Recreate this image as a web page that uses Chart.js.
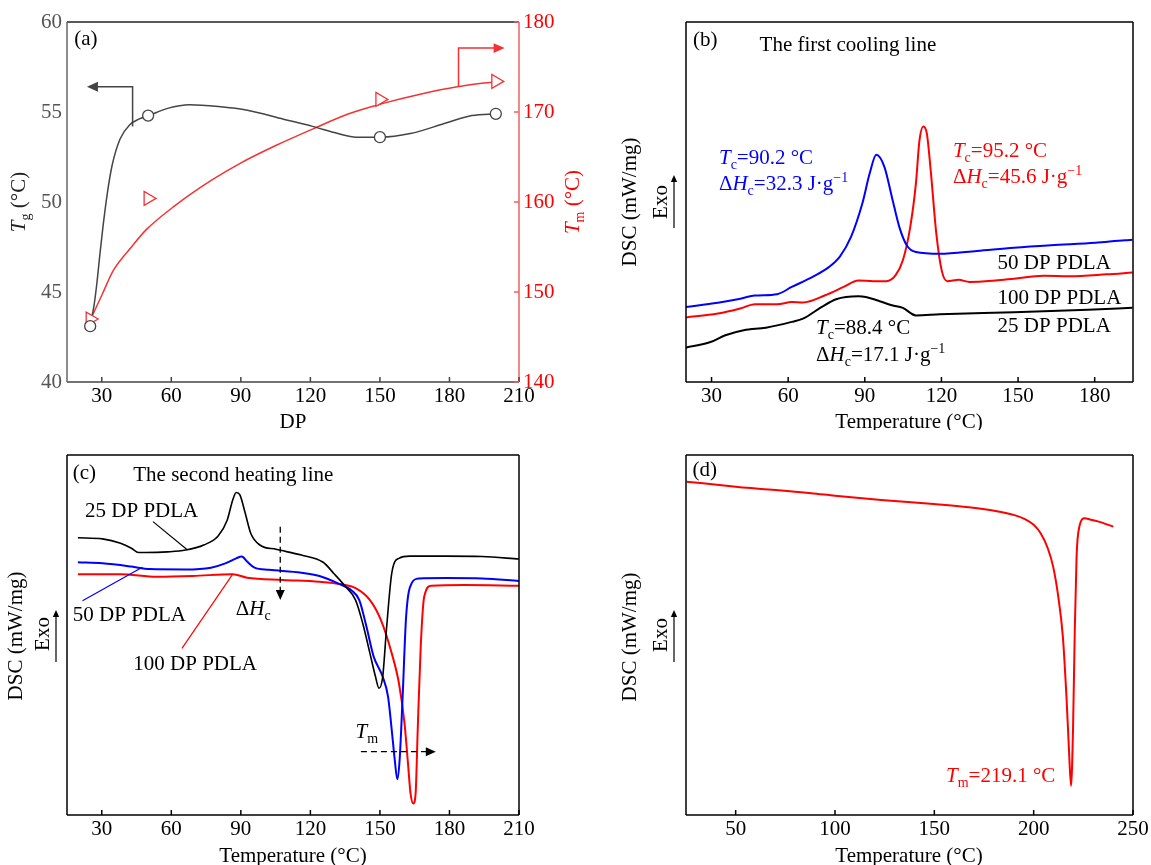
<!DOCTYPE html>
<html>
<head>
<meta charset="utf-8">
<script src="https://cdn.jsdelivr.net/npm/chart.js@4.4.1/dist/chart.umd.min.js"></script>
<style>
  body { margin: 0; background: #fff; width: 1151px; height: 865px; position: relative; overflow: hidden; }
  canvas { position: absolute; }
</style>
</head>
<body>
<canvas id="ca" width="600" height="430" style="left:0;top:0"></canvas>
<canvas id="cb" width="551" height="430" style="left:600px;top:0"></canvas>
<canvas id="cc" width="600" height="435" style="left:0;top:430px"></canvas>
<canvas id="cd" width="551" height="435" style="left:600px;top:430px"></canvas>
<script>
// ---- (a) Tg / Tm vs DP ----
const dpTicks = [30, 60, 90, 120, 150, 180, 210];
const tgTicks = [40, 45, 50, 55, 60];
const tmTicks = [140, 150, 160, 170, 180];
const dp = [25, 50, 150, 200];
const tg = [43.1, 54.8, 53.6, 54.9];
const tm = [147.0, 160.4, 171.4, 173.4];
// guide curves
const tgLineDP = [24.8, 26.6, 27.9, 29.2, 30.5, 32.3, 34.4, 37.9, 42.2, 46.0, 50.2, 58.4, 67.8, 80.3, 92.8, 108.4, 120.9, 131.9, 139.7, 150.3, 163.1, 178.8, 189.7, 200.6];
const tgLine = [43.1, 44.2, 45.5, 47.1, 48.6, 50.4, 52.0, 53.5, 54.3, 54.6, 54.8, 55.2, 55.4, 55.3, 55.1, 54.6, 54.2, 53.8, 53.6, 53.6, 53.8, 54.4, 54.8, 54.9];
const tmLineDP = [25.6, 30.3, 35, 42.8, 49.1, 61.6, 77.2, 89.7, 105.3, 120.9, 136.6, 150.6, 167.8, 183.4, 200.6];
const tmLine = [147.2, 149.8, 152.4, 155, 156.9, 159.6, 162.4, 164.3, 166.3, 168.1, 169.8, 170.9, 172, 172.8, 173.4];

// ---- (b) first cooling, DSC in arbitrary units (0-100 of plot height) ----
const coolTicks = [30, 60, 90, 120, 150, 180];
const cool50T = [19.7, 32.5, 39.7, 47, 55.7, 61.4, 70.1, 75.9, 80.3, 84.6, 89, 91.9, 94.5, 97.7, 100.6, 103.5, 106.4, 110, 119.4, 133.9, 148.4, 162.9, 180.3, 191.9, 194.8];
const cool50 = [20.8, 22.0, 22.9, 24.0, 24.4, 26.4, 29.4, 31.9, 34.9, 40.3, 49.5, 57.9, 63.1, 59.7, 51.4, 43.1, 38.0, 36.1, 35.6, 36.4, 37.3, 38.0, 38.7, 39.4, 39.5];
const cool100T = [19.7, 32.5, 41.2, 47, 55.7, 61.4, 65.8, 74.5, 81.7, 87.5, 93.3, 98.4, 102, 104.9, 107.8, 110, 111.4, 112.9, 114.3, 115.8, 118, 120.1, 122.3, 126.7, 131, 141.2, 148.4, 160, 170.1, 184.6, 194.8];
const cool100 = [17.9, 19.0, 20.4, 21.6, 21.6, 22.2, 22.1, 24.1, 26.4, 28.2, 28.0, 28.0, 29.6, 33.8, 43.1, 55.1, 67.1, 71.0, 69.0, 58.8, 41.2, 31.0, 28.0, 28.4, 27.8, 28.2, 28.7, 29.5, 29.4, 29.9, 30.4];
const cool25T = [19.7, 29.6, 35.4, 42.6, 51.3, 61.4, 65.8, 73, 78.8, 87.5, 90.4, 94.8, 100.6, 104.9, 110, 119.4, 148.4, 177.4, 194.8];
const cool25 = [9.5, 11.1, 13.0, 14.4, 15.1, 16.7, 17.6, 20.8, 23.0, 23.8, 23.6, 22.7, 21.3, 20.6, 18.5, 18.8, 19.4, 20.1, 20.6];

// ---- (c) second heating ----
const heatTicks = [30, 60, 90, 120, 150, 180, 210];
const heat25T = [19.7, 30.3, 38.1, 42.8, 45.9, 49, 58.4, 66.2, 74, 80.2, 84.1, 86.5, 88, 89.6, 91.9, 94.3, 98.2, 105.2, 116.1, 125.5, 130.1, 134.8, 139.5, 142.6, 145.7, 148.1, 149.6, 151.2, 152.8, 155.1, 158.2, 162.9, 178.5, 194.1, 210];
const heat25 = [77.0, 76.7, 75.5, 74.1, 72.9, 72.9, 73.1, 73.6, 75.0, 77.5, 81.9, 87.5, 89.6, 88.9, 83.8, 78.2, 75.0, 73.8, 72.2, 70.2, 67.1, 63.7, 59.7, 53.2, 44.9, 38.4, 35.2, 38.4, 51.4, 67.1, 71.3, 71.9, 71.9, 71.8, 71.1];
const heat50T = [19.7, 30.3, 42.8, 50.6, 66.2, 77.1, 83.3, 88, 90.4, 92.7, 95.9, 102.1, 116.1, 123.9, 131.7, 137.9, 141.1, 144.2, 147.3, 151.2, 153.5, 155.1, 156.4, 157.5, 158.5, 159.8, 161.3, 163.7, 166.8, 178.5, 194.1, 210];
const heat50 = [70.2, 69.9, 69.0, 68.3, 68.2, 68.7, 69.9, 71.3, 71.8, 70.4, 68.7, 68.1, 67.3, 66.4, 64.4, 62.3, 59.7, 52.3, 44.0, 38.4, 32.9, 23.6, 15.3, 9.9, 15.3, 32.9, 55.1, 64.4, 65.7, 65.8, 65.7, 65.0];
const heat100T = [19.7, 38.1, 53.7, 69.3, 86.5, 92.7, 108.3, 123.9, 133.3, 139.5, 145.7, 150.4, 155.1, 158.2, 160.6, 162.1, 163.2, 164.4, 165.4, 166.3, 167.6, 169.1, 172.3, 186.3, 210];
const heat100 = [66.9, 66.9, 66.2, 66.4, 66.9, 65.9, 65.3, 64.8, 64.1, 63.0, 59.7, 54.2, 44.9, 36.6, 25.5, 14.4, 6.0, 3.2, 6.0, 23.6, 46.8, 60.6, 63.7, 63.9, 63.7];

// ---- (d) single heating scan ----
const meltTicks = [50, 100, 150, 200, 250];
const meltT = [25.3, 50, 88, 100, 123.3, 149.7, 167.4, 181.5, 190.3, 195.6, 200, 203.6, 207.1, 209.8, 212.4, 214.7, 216.5, 217.7, 218.8, 219.8, 220.7, 221.6, 223, 225.7, 228.3, 232.7, 240.1];
const melt = [92.6, 91.2, 89.4, 88.7, 87.5, 86.4, 85.5, 84.4, 83.3, 82.2, 80.6, 78.2, 74.1, 69.0, 60.6, 49.5, 32.9, 19.0, 8.1, 23.6, 51.4, 71.8, 80.1, 82.4, 82.1, 81.5, 80.1];

const RED = '#ff0000', BLUE = '#0000ff', ARED = '#f33333', GREY = '#444444';
const FONT = '"Liberation Serif", "Times New Roman", serif';
Chart.defaults.font.family = FONT;
Chart.defaults.font.size = 21;
Chart.defaults.color = '#000';

const xy = (xs, ys) => xs.map((x, i) => ({x: x, y: ys[i]}));

function curve(xs, ys, color, w, yid) {
  return {
    data: xy(xs, ys), showLine: true, borderColor: color, borderWidth: w,
    pointRadius: 0, cubicInterpolationMode: 'monotone', yAxisID: yid || 'y'
  };
}

function fixedTicks(list) {
  return s => { s.ticks = list.map(v => ({value: v})); };
}

function tempAxis(min, max, list, h) {
  return {
    type: 'linear', min: min, max: max,
    afterBuildTicks: fixedTicks(list),
    afterFit: s => { s.height = h; },
    grid: {display: false, drawTicks: false},
    border: {display: false},
    ticks: {padding: 2, color: '#000', autoSkip: false, maxRotation: 0}
  };
}

// text with italic / sub / sup runs
function rich(ctx, runs, x, y, color, align, rot) {
  const size = 21;
  const fontOf = s => (s === 'i' ? 'italic ' : '') + (s === 'sub' || s === 'sup' ? 14 : size) + 'px ' + FONT;
  ctx.save();
  ctx.translate(x, y);
  if (rot) ctx.rotate(rot);
  ctx.fillStyle = color;
  ctx.textBaseline = 'alphabetic';
  ctx.textAlign = 'left';
  let w = 0;
  runs.forEach(r => { ctx.font = fontOf(r[1]); w += ctx.measureText(r[0]).width; });
  let cx = align === 'center' ? -w / 2 : (align === 'right' ? -w : 0);
  runs.forEach(r => {
    ctx.font = fontOf(r[1]);
    const dy = r[1] === 'sub' ? 5 : (r[1] === 'sup' ? -8 : 0);
    ctx.fillText(r[0], cx, dy);
    cx += ctx.measureText(r[0]).width;
  });
  ctx.restore();
}

const decor = {
  id: 'decor',
  afterDraw(chart, args, o) {
    if (!o || !o.frame) return;
    const ctx = chart.ctx, a = chart.chartArea, S = chart.scales;
    const P = (p, yid, pix) => pix ? p : [S.x.getPixelForValue(p[0]), S[yid || 'y'].getPixelForValue(p[1])];
    ctx.save();
    ctx.lineWidth = 1.5;
    const sides = {
      top: [a.left, a.top, a.right, a.top], right: [a.right, a.top, a.right, a.bottom],
      bottom: [a.left, a.bottom, a.right, a.bottom], left: [a.left, a.top, a.left, a.bottom]
    };
    for (const k in sides) {
      const s = sides[k];
      ctx.strokeStyle = o.frame[k];
      ctx.beginPath(); ctx.moveTo(s[0], s[1]); ctx.lineTo(s[2], s[3]); ctx.stroke();
    }
    // inward tick marks
    (o.ticks || []).forEach(t => {
      const sc = S[t.scale];
      ctx.strokeStyle = t.color;
      sc.ticks.forEach(tk => {
        const v = sc.getPixelForValue(tk.value);
        ctx.beginPath();
        if (t.side === 'bottom') { ctx.moveTo(v, a.bottom); ctx.lineTo(v, a.bottom - 5); }
        if (t.side === 'right') { ctx.moveTo(a.right, v); ctx.lineTo(a.right - 5, v); }
        ctx.stroke();
      });
    });
    // leader lines and arrows
    (o.lines || []).forEach(l => {
      const pts = l.pts.map(p => P(p, l.yid, l.pix));
      ctx.strokeStyle = l.color; ctx.fillStyle = l.color;
      ctx.lineWidth = l.width || 1.3;
      ctx.setLineDash(l.dash || []);
      const n = pts.length;
      let end = pts[n - 1];
      if (l.head) {
        const ang = Math.atan2(pts[n - 1][1] - pts[n - 2][1], pts[n - 1][0] - pts[n - 2][0]);
        end = [end[0] - Math.cos(ang) * l.head * 0.8, end[1] - Math.sin(ang) * l.head * 0.8];
      }
      ctx.beginPath();
      ctx.moveTo(pts[0][0], pts[0][1]);
      for (let i = 1; i < n - 1; i++) ctx.lineTo(pts[i][0], pts[i][1]);
      ctx.lineTo(end[0], end[1]);
      ctx.stroke();
      ctx.setLineDash([]);
      if (l.head) {
        const tip = pts[n - 1], h = l.head, hw = l.head * 0.45;
        const ang = Math.atan2(tip[1] - pts[n - 2][1], tip[0] - pts[n - 2][0]);
        ctx.save();
        ctx.translate(tip[0], tip[1]); ctx.rotate(ang);
        ctx.beginPath(); ctx.moveTo(0, 0); ctx.lineTo(-h, -hw); ctx.lineTo(-h, hw); ctx.closePath(); ctx.fill();
        ctx.restore();
      }
    });
    (o.texts || []).forEach(t => {
      const p = P(t.at, t.yid, t.pix);
      rich(ctx, t.runs, p[0], p[1], t.color || '#000', t.align, t.rot);
    });
    ctx.restore();
  }
};
Chart.register(decor);

function base(extra) {
  return Object.assign({
    responsive: false, animation: false, events: [],
    devicePixelRatio: 1
  }, extra);
}

const UP = -Math.PI / 2;
const dscTitle = (x, y) => ({pix: true, at: [x, y], runs: [['DSC (mW/mg)', '']], align: 'center', rot: UP});
const exoTitle = (x, y) => ({pix: true, at: [x, y], runs: [['Exo', '']], align: 'center', rot: UP});
const exoArrow = (x, y0, y1) => ({pix: true, pts: [[x, y0], [x, y1]], color: '#000', width: 1.2, head: 7});
const tempTitle = (x, y) => ({pix: true, at: [x, y], runs: [['Temperature (°C)', '']], align: 'center'});
const blackFrame = {top: '#000', right: '#000', bottom: '#000', left: '#000'};

// (a)
new Chart(document.getElementById('ca'), {
  type: 'scatter',
  data: {datasets: [
    {data: xy(dp, tg), yAxisID: 'y', pointStyle: 'circle', pointRadius: 5.5, borderColor: GREY, backgroundColor: '#fff', borderWidth: 1.3},
    {data: xy(dp, tm), yAxisID: 'y1', pointStyle: 'triangle', rotation: 90, pointRadius: 8, borderColor: ARED, backgroundColor: '#fff', borderWidth: 1.3},
    curve(tgLineDP, tgLine, GREY, 1.5, 'y'),
    curve(tmLineDP, tmLine, ARED, 1.5, 'y1')
  ]},
  options: base({
    layout: {padding: {top: 22, left: 0, right: 0, bottom: 0}},
    scales: {
      x: tempAxis(15, 210, dpTicks, 48),
      y: {position: 'left', min: 40, max: 60, afterBuildTicks: fixedTicks(tgTicks), afterFit: s => { s.width = 67; },
          grid: {display: false, drawTicks: false}, border: {display: false}, ticks: {color: '#555', padding: 5}},
      y1: {position: 'right', min: 140, max: 180, afterBuildTicks: fixedTicks(tmTicks), afterFit: s => { s.width = 81; },
          grid: {display: false, drawTicks: false}, border: {display: false}, ticks: {color: RED, padding: 4}}
    },
    plugins: {
      legend: {display: false}, tooltip: {enabled: false},
      decor: {
        frame: {top: '#222', right: '#f06060', bottom: '#444', left: '#666'},
        ticks: [{scale: 'x', side: 'bottom', color: '#444'}, {scale: 'y1', side: 'right', color: '#f06060'}],
        lines: [
          {pts: [[43.3, 54.2], [43.3, 56.4], [23.6, 56.4]], yid: 'y', color: GREY, width: 1.5, head: 11},
          {pts: [[183.9, 172.8], [183.9, 177.1], [203.8, 177.1]], yid: 'y1', color: ARED, width: 1.5, head: 11}
        ],
        texts: [
          {at: [18.1, 58.75], runs: [['(a)', '']]},
          {pix: true, at: [25, 202], runs: [['T', 'i'], ['g', 'sub'], [' (°C)', '']], align: 'center', rot: UP, color: '#222'},
          {pix: true, at: [579, 202], runs: [['T', 'i'], ['m', 'sub'], [' (°C)', '']], align: 'center', rot: UP, color: RED},
          {pix: true, at: [293, 428], runs: [['DP', '']], align: 'center'}
        ]
      }
    }
  })
});

// (b)
new Chart(document.getElementById('cb'), {
  type: 'scatter',
  data: {datasets: [
    curve(cool50T, cool50, BLUE, 2),
    curve(cool100T, cool100, RED, 2),
    curve(cool25T, cool25, '#000', 2)
  ]},
  options: base({
    layout: {padding: {top: 22, left: 86, right: 18, bottom: 0}},
    scales: {x: tempAxis(20, 195, coolTicks, 48), y: {display: false, min: 0, max: 100}},
    plugins: {
      legend: {display: false}, tooltip: {enabled: false},
      decor: {
        frame: blackFrame,
        ticks: [{scale: 'x', side: 'bottom', color: '#000'}],
        lines: [exoArrow(74, 228, 175)],
        texts: [
          {at: [22.75, 93.3], runs: [['(b)', '']]},
          {at: [48.8, 92.0], runs: [['The first cooling line', '']]},
          {at: [32.9, 60.6], color: BLUE, runs: [['T', 'i'], ['c', 'sub'], ['=90.2 °C', '']]},
          {at: [32.9, 53.4], color: BLUE, runs: [['Δ', ''], ['H', 'i'], ['c', 'sub'], ['=32.3 J·g', ''], ['−1', 'sup']]},
          {at: [124.5, 62.5], color: RED, runs: [['T', 'i'], ['c', 'sub'], ['=95.2 °C', '']]},
          {at: [124.5, 55.3], color: RED, runs: [['Δ', ''], ['H', 'i'], ['c', 'sub'], ['=45.6 J·g', ''], ['−1', 'sup']]},
          {at: [70.9, 13.2], runs: [['T', 'i'], ['c', 'sub'], ['=88.4 °C', '']]},
          {at: [70.9, 5.8], runs: [['Δ', ''], ['H', 'i'], ['c', 'sub'], ['=17.1 J·g', ''], ['−1', 'sup']]},
          {at: [142, 31.5], runs: [['50 DP PDLA', '']]},
          {at: [142, 21.8], runs: [['100 DP PDLA', '']]},
          {at: [142, 13.9], runs: [['25 DP PDLA', '']]},
          dscTitle(36, 202), exoTitle(67, 202), tempTitle(309, 428)
        ]
      }
    }
  })
});

// (c)
new Chart(document.getElementById('cc'), {
  type: 'scatter',
  data: {datasets: [
    curve(heat25T, heat25, '#000', 1.6),
    curve(heat50T, heat50, BLUE, 2),
    curve(heat100T, heat100, RED, 2)
  ]},
  options: base({
    layout: {padding: {top: 25, left: 67, right: 81, bottom: 0}},
    scales: {x: tempAxis(15, 210, heatTicks, 50), y: {display: false, min: 0, max: 100}},
    plugins: {
      legend: {display: false}, tooltip: {enabled: false},
      decor: {
        frame: blackFrame,
        ticks: [{scale: 'x', side: 'bottom', color: '#000'}],
        lines: [
          exoArrow(56, 232, 180),
          {pts: [[52.1, 81.5], [67, 73.6]], color: '#000', width: 1.2},
          {pts: [[21.7, 59.5], [47.5, 68.8]], color: BLUE, width: 1.2},
          {pts: [[64.6, 46.3], [86.5, 66.9]], color: RED, width: 1.2},
          {pts: [[107.0, 80.1], [107.0, 59.7]], color: '#000', width: 1.3, dash: [6, 4], head: 10},
          {pts: [[141.8, 17.6], [174.1, 17.6]], color: '#000', width: 1.3, dash: [6, 4], head: 10}
        ],
        texts: [
          {at: [17.5, 93.2], runs: [['(c)', '']]},
          {at: [43.6, 92.9], runs: [['The second heating line', '']]},
          {at: [22.8, 82.9], runs: [['25 DP PDLA', '']]},
          {at: [17.5, 54.0], runs: [['50 DP PDLA', '']]},
          {at: [43.6, 40.3], runs: [['100 DP PDLA', '']]},
          {at: [87.8, 55.6], runs: [['Δ', ''], ['H', 'i'], ['c', 'sub']]},
          {at: [139.5, 21.3], runs: [['T', 'i'], ['m', 'sub']]},
          dscTitle(22, 206), exoTitle(49, 204), tempTitle(293, 432)
        ]
      }
    }
  })
});

// (d)
new Chart(document.getElementById('cd'), {
  type: 'scatter',
  data: {datasets: [curve(meltT, melt, RED, 2)]},
  options: base({
    layout: {padding: {top: 25, left: 86, right: 18, bottom: 0}},
    scales: {x: tempAxis(25, 250, meltTicks, 50), y: {display: false, min: 0, max: 100}},
    plugins: {
      legend: {display: false}, tooltip: {enabled: false},
      decor: {
        frame: blackFrame,
        ticks: [{scale: 'x', side: 'bottom', color: '#000'}],
        lines: [exoArrow(74, 232, 180)],
        texts: [
          {at: [28.3, 94.2], runs: [['(d)', '']]},
          {at: [155.9, 9.3], color: RED, runs: [['T', 'i'], ['m', 'sub'], ['=219.1 °C', '']]},
          dscTitle(36, 207), exoTitle(67, 205), tempTitle(309, 432)
        ]
      }
    }
  })
});
</script>
</body>
</html>
